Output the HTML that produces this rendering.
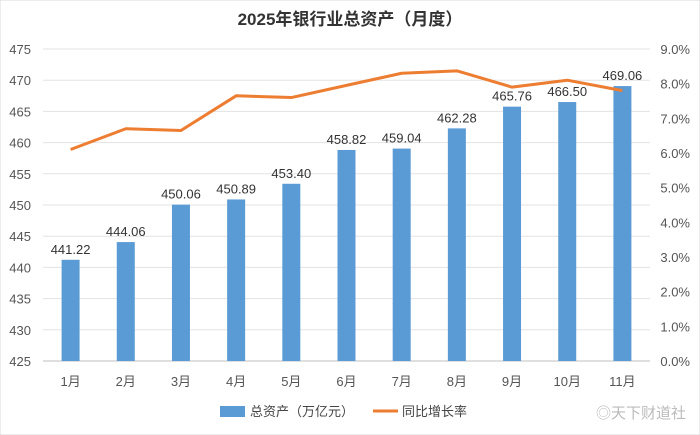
<!DOCTYPE html>
<html><head><meta charset="utf-8"><style>
body{margin:0;background:#fff}
svg{display:block;font-family:"Liberation Sans","Noto Sans CJK SC",sans-serif}
</style></head><body>
<svg width="700" height="435">
<rect x="0" y="0" width="700" height="435" fill="#fff" stroke="#d9d9d9"/>
<text x="350" y="25" text-anchor="middle" font-size="17" font-weight="bold" fill="#333">2025年银行业总资产（月度）</text>
<g id="grid"></g><g id="bars"></g><g id="line"></g><g id="axes"></g>
<g>
<rect x="220" y="406" width="25" height="11" fill="#5b9bd5"/>
<text x="250" y="416" font-size="13" fill="#444">总资产（万亿元）</text>
<line x1="373" y1="411" x2="398" y2="411" stroke="#ed7d31" stroke-width="3"/>
<text x="402" y="416" font-size="13" fill="#444">同比增长率</text>
</g>
<text x="596" y="418" font-size="15" fill="#bbb">◎天下财道社</text>
</svg>
<script>
const categories=["1月","2月","3月","4月","5月","6月","7月","8月","9月","10月","11月"];
const assets=[441.22,444.06,450.06,450.89,453.40,458.82,459.04,462.28,465.76,466.50,469.06];
const growth=[6.1,6.7,6.65,7.65,7.6,7.95,8.3,8.37,7.9,8.1,7.8];
const leftTicks=[425,430,435,440,445,450,455,460,465,470,475];
const rightTicks=[0,1,2,3,4,5,6,7,8,9];
const NS="http://www.w3.org/2000/svg";
const X0=43,X1=650,Y0=361,Y1=49;
const step=(X1-X0)/categories.length;
const xc=i=>X0+step*(i+0.5);
const yL=v=>Y0-(v-425)/50*(Y0-Y1);
const yR=v=>Y0-v/9*(Y0-Y1);
function mk(t,a,p){const e=document.createElementNS(NS,t);for(const k in a)e.setAttribute(k,a[k]);document.getElementById(p).appendChild(e);return e;}
leftTicks.forEach(v=>{
 const l=mk("line",{x1:X0,x2:X1,y1:yL(v),y2:yL(v),stroke:v===425?"#bfbfbf":"#e3e3e3"},"grid");
 
 
 const t=mk("text",{x:31,y:yL(v)+5,"text-anchor":"end","font-size":"13",fill:"#555"},"axes");t.textContent=v;
 
 
});
rightTicks.forEach(v=>{
 const t=mk("text",{x:690,y:yR(v)+5,"text-anchor":"end","font-size":"13",fill:"#555"},"axes");t.textContent=v.toFixed(1)+"%";
 
 
});
categories.forEach((c,i)=>{
 const t=mk("text",{x:xc(i),y:386,"text-anchor":"middle","font-size":"13",fill:"#555"},"axes");t.textContent=c;
 
 
 const b=mk("rect",{x:xc(i)-9,y:yL(assets[i]),width:18,height:Y0-yL(assets[i]),fill:"#5b9bd5"},"bars");
 
 
 const lb=mk("text",{x:xc(i),y:yL(assets[i])-6,"text-anchor":"middle","font-size":"13",fill:"#333"},"bars");lb.textContent=assets[i].toFixed(2);
 
 
});
const p=mk("polyline",{points:growth.map((v,i)=>xc(i)+","+yR(v)).join(" "),fill:"none",stroke:"#ed7d31","stroke-width":"3","stroke-linejoin":"round"},"line");


</script>
</body></html>
